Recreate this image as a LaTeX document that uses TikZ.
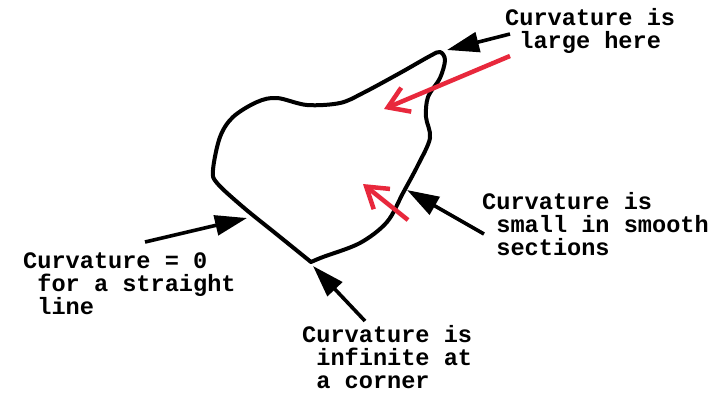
\documentclass[tikz,border=0pt]{standalone}
\usepackage{fontspec}
\setmonofont{Liberation Mono}
\usetikzlibrary{arrows.meta}
\definecolor{curvred}{HTML}{E8283C}
\tikzset{
  lbl/.style={font=\ttfamily\bfseries\fontsize{23.6}{23}\selectfont, align=left, inner sep=0pt, anchor=base west},
  blackarrow/.style={line width=3.6pt, -{Triangle[length=32pt,width=20pt]}},
  redarrow/.style={line width=4.5pt, color=curvred, -{Straight Barb[length=20pt,width=26pt]}},
  outline/.style={line width=4pt, line join=round, line cap=round}
}
\begin{document}
\begin{tikzpicture}[x=1pt,y=-1pt]
\path[use as bounding box, fill=white] (0,0) rectangle (723,394);
% outline
\draw[outline] plot[smooth, tension=0.55] coordinates{
 (311,262) (323,257) (360,243) (387,222) (403,193) (418,165) (430,138)
 (426,117) (428,97) (440,78) (445,60) (440,52) (430,56) (400,73) (363,93)
 (340,103) (307,105) (277,98) (257,102) (233,117) (220,137) (213,170)
 (217,183) (243,207) (277,234.5) (311,262)};
% coordinates for arrow targets
\coordinate (tip) at (447,50);
\coordinate (straight) at (247,218);
\coordinate (corner) at (313,266);
\coordinate (smooth) at (407,190);
\coordinate (r1s) at (510,56);
\coordinate (r1e) at (384,109);
\coordinate (r2s) at (408,220);
\coordinate (r2e) at (363,184);
% labels (anchor = baseline of last line)
\node[lbl] (large) at (505,48) {Curvature is\\\hphantom{C}large here};
\node[lbl] (zero) at (23,314) {Curvature = 0\\\hphantom{C}for a straight\\\hphantom{C}line};
\node[lbl] (inf) at (302,388) {Curvature is\\\hphantom{C}infinite at\\\hphantom{C}a corner};
\node[lbl] (small) at (482,255) {Curvature is\\\hphantom{C}small in smooth\\\hphantom{C}sections};
% black arrows
\coordinate (a1s) at (510,34);
\coordinate (a2s) at (145,242);
\coordinate (a3s) at (365,321);
\coordinate (a4s) at (484,234);
\draw[blackarrow] (a1s) -- (tip);
\draw[blackarrow] (a2s) -- (straight);
\draw[blackarrow] (a3s) -- (corner);
\draw[blackarrow] (a4s) -- (smooth);
% red arrows
\draw[redarrow] (r1s) -- (r1e);
\draw[redarrow] (r2s) -- (r2e);
\end{tikzpicture}
\end{document}
